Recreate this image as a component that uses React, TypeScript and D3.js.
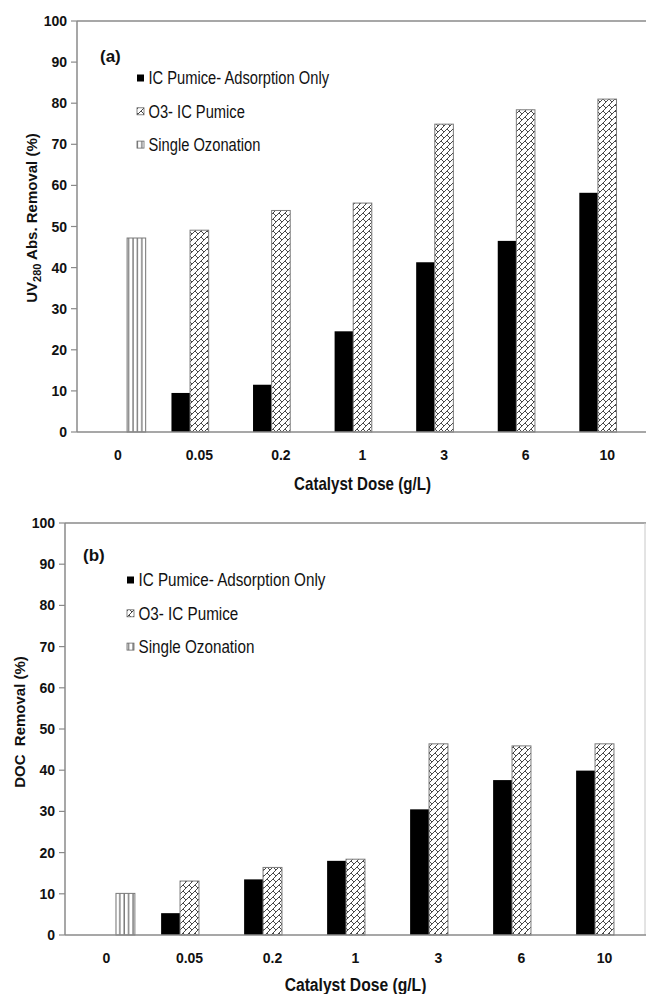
import React from "react";
import * as d3 from "d3";

// Catalyst dose categories (g/L) and series
const categories = ["0", "0.05", "0.2", "1", "3", "6", "10"];
const seriesNames = ["IC Pumice- Adsorption Only", "O3- IC Pumice", "Single Ozonation"];
const yTickValues = [0, 10, 20, 30, 40, 50, 60, 70, 80, 90, 100];

// (a) UV280 absorbance removal (%)
const uvAdsorptionOnly = [null, 9.5, 11.5, 24.5, 41.3, 46.5, 58.2];
const uvO3Pumice = [null, 49.1, 53.9, 55.7, 74.9, 78.4, 81.0];
const uvSingleOzonation = [47.2, null, null, null, null, null, null];

// (b) DOC removal (%)
const docAdsorptionOnly = [null, 5.3, 13.5, 18.0, 30.5, 37.6, 39.9];
const docO3Pumice = [null, 13.1, 16.4, 18.4, 46.4, 45.9, 46.4];
const docSingleOzonation = [10.1, null, null, null, null, null, null];

const AXIS_GRAY = "#8a8a8a";
const FONT = "'Liberation Sans', Arial, sans-serif";

const fills = ["#000000", "url(#brick)", "url(#vlines)"];

type PanelProps = {
  tag: string;
  series: (number | null)[][];
  left: number;
  right: number;
  top: number;
  bottom: number;
  legendX: number;
  legendY: number;
  tagX: number;
  tagY: number;
  titleX: number;
  titleY: number;
  xTitleY: number;
  narrow: number; // horizontal compression of the condensed captions
  rightBorder: boolean;
  yTitle: React.ReactNode;
};

function Panel(p: PanelProps) {
  const x = d3.scaleBand<string>().domain(categories).range([p.left, p.right]).padding(0);
  const step = x.step();
  const barW = step * 0.228;
  const sub = d3
    .scaleBand<string>()
    .domain(seriesNames)
    .range([-1.5 * barW, 1.5 * barW])
    .padding(0);
  const y = d3.scaleLinear().domain([0, 100]).range([p.bottom, p.top]);
  const cx = (c: string) => (x(c) as number) + step / 2;

  return (
    <g>
      {/* plot frame */}
      <line x1={p.left} x2={p.right} y1={p.top} y2={p.top} stroke={AXIS_GRAY} strokeWidth={1.5} />
      {p.rightBorder && (
        <line x1={p.right - 1} x2={p.right - 1} y1={p.top} y2={p.bottom} stroke="#c8c8c8" strokeWidth={1} />
      )}

      {/* bars */}
      {p.series.map((vals, si) =>
        vals.map((v, ci) => {
          if (v == null) return null;
          const c = categories[ci];
          const bx = cx(c) + (sub(seriesNames[si]) as number);
          const by = y(v);
          return (
            <rect
              key={`${si}-${ci}`}
              x={bx}
              y={by}
              width={sub.bandwidth()}
              height={p.bottom - by}
              fill={fills[si]}
              stroke={si === 0 ? "#000" : "#7a7a7a"}
              strokeWidth={si === 0 ? 0 : 1}
            />
          );
        })
      )}

      {/* y axis */}
      <line x1={p.left} x2={p.left} y1={p.top} y2={p.bottom} stroke={AXIS_GRAY} strokeWidth={1.5} />
      {yTickValues.map((t) => (
        <g key={t}>
          <line x1={p.left - 6} x2={p.left} y1={y(t)} y2={y(t)} stroke={AXIS_GRAY} strokeWidth={1.2} />
          <text
            x={p.left - 10}
            y={y(t)}
            dy="0.36em"
            textAnchor="end"
            fontFamily={FONT}
            fontWeight="bold"
            fontSize={14}
            fill="#111"
          >
            {t}
          </text>
        </g>
      ))}

      {/* x axis */}
      <line x1={p.left} x2={p.right} y1={p.bottom} y2={p.bottom} stroke={AXIS_GRAY} strokeWidth={1.5} />
      {categories.map((c) => (
        <text
          key={c}
          x={cx(c)}
          y={p.bottom + 28}
          textAnchor="middle"
          fontFamily={FONT}
          fontWeight="bold"
          fontSize={14}
          fill="#111"
        >
          {c}
        </text>
      ))}
      <text
        transform={`translate(${(p.left + p.right) / 2},${p.xTitleY}) scale(${p.narrow},1)`}
        textAnchor="middle"
        fontFamily={FONT}
        fontWeight="bold"
        fontSize={18}
        fill="#111"
      >
        Catalyst Dose (g/L)
      </text>

      {/* y title */}
      <text
        transform={`translate(${p.titleX},${p.titleY}) rotate(-90)`}
        textAnchor="middle"
        fontFamily={FONT}
        fontWeight="bold"
        fontSize={15}
        fill="#111"
      >
        {p.yTitle}
      </text>

      {/* panel tag */}
      <text x={p.tagX} y={p.tagY} fontFamily={FONT} fontWeight="bold" fontSize={17} fill="#111">
        {p.tag}
      </text>

      {/* legend */}
      {seriesNames.map((s, i) => {
        const ly = p.legendY + i * 33.3;
        return (
          <g key={s}>
            <rect
              x={p.legendX}
              y={ly - 3.5}
              width={7}
              height={7}
              fill={fills[i]}
              stroke={i === 0 ? "#000" : "#666"}
              strokeWidth={i === 0 ? 0 : 0.8}
            />
            <text
              transform={`translate(${p.legendX + 11.5},${ly}) scale(${p.narrow},1)`}
              dy="0.36em"
              fontFamily={FONT}
              fontSize={17.5}
              fill="#111"
            >
              {s}
            </text>
          </g>
        );
      })}
    </g>
  );
}

export default function App() {
  return (
    <div style={{ position: "absolute", left: 0, top: 0 }}>
      <svg width={646} height={994} style={{ display: "block" }}>
        <defs>
          <pattern id="brick" patternUnits="userSpaceOnUse" width={6} height={6}>
            <rect width={6} height={6} fill="#fff" />
            <path d="M0,6 L6,0 M-1,1 L1,-1 M5,7 L7,5 M3,3 L6,6" stroke="#333" strokeWidth={0.9} fill="none" />
          </pattern>
          <pattern id="vlines" patternUnits="userSpaceOnUse" width={4.4} height={6}>
            <rect width={4.4} height={6} fill="#fff" />
            <line x1={1} x2={1} y1={0} y2={6} stroke="#444" strokeWidth={1} />
          </pattern>
        </defs>
        <rect width={646} height={994} fill="#fff" />
        <Panel
          tag="(a)"
          series={[uvAdsorptionOnly, uvO3Pumice, uvSingleOzonation]}
          left={77}
          right={648}
          top={21}
          bottom={432}
          legendX={137}
          legendY={78}
          tagX={100}
          tagY={62}
          titleX={37}
          titleY={218}
          xTitleY={490}
          narrow={0.84}
          rightBorder={false}
          yTitle={
            <>
              UV
              <tspan fontSize={11} dy={4}>280</tspan>
              <tspan dy={-4}> Abs. Removal (%)</tspan>
            </>
          }
        />
        <Panel
          tag="(b)"
          series={[docAdsorptionOnly, docO3Pumice, docSingleOzonation]}
          left={65}
          right={646}
          top={523}
          bottom={935}
          legendX={127}
          legendY={580}
          tagX={83}
          tagY={561}
          titleX={25}
          titleY={722}
          xTitleY={991}
          narrow={0.87}
          rightBorder={true}
          yTitle={<tspan xmlSpace="preserve">DOC  Removal (%)</tspan>}
        />
      </svg>
    </div>
  );
}
